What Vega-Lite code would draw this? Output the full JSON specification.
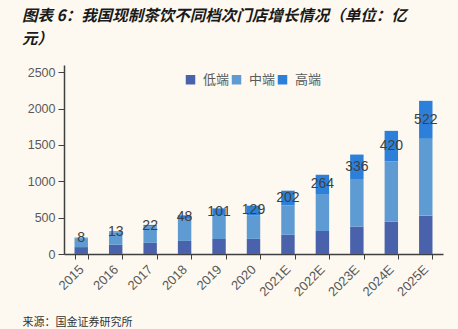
{
  "$schema": "https://vega.github.io/schema/vega-lite/v6.json",
  "width": 379,
  "height": 189,
  "autosize": {"type": "none"},
  "padding": {"left": 64, "top": 65, "right": 15, "bottom": 75},
  "background": "#FDF9F0",
  "title": {
    "text": ["图表 6：我国现制茶饮不同档次门店增长情况（单位：亿", "元）"],
    "anchor": "start",
    "frame": "group",
    "dx": -42,
    "offset": 18,
    "font": "Noto Sans CJK SC",
    "fontSize": 15.5,
    "fontWeight": "bold",
    "fontStyle": "italic",
    "lineHeight": 22.5,
    "color": "#1a1a1a"
  },
  "config": {
    "view": {"stroke": null},
    "font": "Liberation Sans",
    "axis": {"grid": false, "labelColor": "#595959", "labelFontSize": 12.5, "domainColor": "#404040", "tickColor": "#404040"}
  },
  "data": {
    "values": [
      {"year": "2015", "level": "低端", "order": 1, "value": 95},
      {"year": "2015", "level": "中端", "order": 2, "value": 122},
      {"year": "2015", "level": "高端", "order": 3, "value": 8},
      {"year": "2016", "level": "低端", "order": 1, "value": 127},
      {"year": "2016", "level": "中端", "order": 2, "value": 172},
      {"year": "2016", "level": "高端", "order": 3, "value": 13},
      {"year": "2017", "level": "低端", "order": 1, "value": 153},
      {"year": "2017", "level": "中端", "order": 2, "value": 225},
      {"year": "2017", "level": "高端", "order": 3, "value": 22},
      {"year": "2018", "level": "低端", "order": 1, "value": 180},
      {"year": "2018", "level": "中端", "order": 2, "value": 304},
      {"year": "2018", "level": "高端", "order": 3, "value": 48},
      {"year": "2019", "level": "低端", "order": 1, "value": 206},
      {"year": "2019", "level": "中端", "order": 2, "value": 321},
      {"year": "2019", "level": "高端", "order": 3, "value": 101},
      {"year": "2020", "level": "低端", "order": 1, "value": 208},
      {"year": "2020", "level": "中端", "order": 2, "value": 327},
      {"year": "2020", "level": "高端", "order": 3, "value": 129},
      {"year": "2021E", "level": "低端", "order": 1, "value": 264},
      {"year": "2021E", "level": "中端", "order": 2, "value": 405},
      {"year": "2021E", "level": "高端", "order": 3, "value": 202},
      {"year": "2022E", "level": "低端", "order": 1, "value": 317},
      {"year": "2022E", "level": "中端", "order": 2, "value": 509},
      {"year": "2022E", "level": "高端", "order": 3, "value": 264},
      {"year": "2023E", "level": "低端", "order": 1, "value": 378},
      {"year": "2023E", "level": "中端", "order": 2, "value": 654},
      {"year": "2023E", "level": "高端", "order": 3, "value": 336},
      {"year": "2024E", "level": "低端", "order": 1, "value": 444},
      {"year": "2024E", "level": "中端", "order": 2, "value": 830},
      {"year": "2024E", "level": "高端", "order": 3, "value": 420},
      {"year": "2025E", "level": "低端", "order": 1, "value": 528},
      {"year": "2025E", "level": "中端", "order": 2, "value": 1057},
      {"year": "2025E", "level": "高端", "order": 3, "value": 522}
    ]
  },
  "encoding": {
    "x": {
      "field": "year",
      "type": "nominal",
      "sort": null,
      "scale": {"paddingInner": 0.61, "paddingOuter": 0.305},
      "axis": {
        "title": "来源：国金证券研究所",
        "titleFont": "Noto Sans CJK SC",
        "titleFontSize": 11,
        "titleFontWeight": "normal",
        "titleColor": "#333333",
        "titleAnchor": "start",
        "titleAlign": "left",
        "titleBaseline": "middle",
        "titleX": -42,
        "titleY": 68,
        "labelAngle": -45,
        "labelAlign": "right",
        "labelBaseline": "middle",
        "labelPadding": 8,
        "labelFontSize": 13,
        "tickBand": "extent",
        "tickSize": 5,
        "domainWidth": 1.5
      }
    }
  },
  "layer": [
    {
      "mark": {"type": "bar"},
      "encoding": {
        "y": {
          "field": "value",
          "type": "quantitative",
          "stack": "zero",
          "scale": {"domain": [0, 2500]},
          "axis": {"title": null, "values": [0, 500, 1000, 1500, 2000, 2500], "format": "d", "labelOverlap": false, "tickSize": 6, "labelPadding": 3, "domainWidth": 1.5}
        },
        "color": {
          "field": "level",
          "type": "nominal",
          "scale": {"domain": ["低端", "中端", "高端"], "range": ["#4A62AC", "#5F9BD3", "#2C80DA"]},
          "legend": {
            "title": null,
            "orient": "none",
            "legendX": 120,
            "legendY": 8,
            "direction": "horizontal",
            "symbolType": "square",
            "symbolSize": 90,
            "symbolStrokeWidth": 0,
            "labelFont": "Noto Sans CJK SC",
            "labelFontSize": 13,
            "labelColor": "#595959",
            "labelOffset": 6,
            "columnPadding": 0
          }
        },
        "order": {"field": "order", "type": "quantitative"}
      }
    },
    {
      "transform": [
        {"stack": "value", "groupby": ["year"], "sort": [{"field": "order"}], "as": ["y0", "y1"]},
        {"filter": "datum.level == '高端'"},
        {"calculate": "(datum.y0 + datum.y1) / 2", "as": "mid"}
      ],
      "mark": {"type": "text", "fontSize": 14, "color": "#404040", "baseline": "middle"},
      "encoding": {
        "y": {
          "field": "mid",
          "type": "quantitative",
          "axis": {"title": null, "values": [0, 500, 1000, 1500, 2000, 2500], "format": "d", "labelOverlap": false, "tickSize": 6, "labelPadding": 3, "domainWidth": 1.5}
        },
        "text": {"field": "value", "type": "quantitative"}
      }
    }
  ]
}
